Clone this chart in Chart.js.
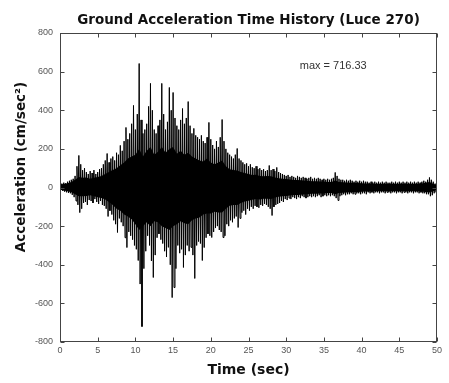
<!DOCTYPE html>
<html>
<head>
<meta charset="utf-8">
<script src="https://cdn.jsdelivr.net/npm/chart.js@4.4.1/dist/chart.umd.min.js"></script>
<style>
html,body{margin:0;padding:0;background:#fff;}
#wrap{width:449px;height:383px;}
</style>
</head>
<body>
<div id="wrap"><canvas id="c" width="449" height="383"></canvas></div>
<script>
// Sampling: one positive and one negative peak every 0.25 s
const sampleStep = 0.25;
// the dense (solid black) band of the record, every 0.5 s
const coreStep = 0.5;
const titleText = 'Ground Acceleration Time History (Luce 270)';
const xTitle = 'Time (sec)';
const yTitle = 'Acceleration (cm/sec\u00B2)';
const maxLabel = 'max = 716.33';
const xTicks = {min: 0, max: 50, step: 5};
const yTicks = {min: -800, max: 800, step: 200};

// positive peak (cm/sec^2) in each 0.25 s slot
const upperPeaks = [
 15,20,25,22,30,35,40,45,60,110,166,120,90,100,80,70,85,75,90,70,
 80,95,100,120,140,176,130,150,160,140,180,170,218,190,240,311,250,280,330,425,
 300,380,642,350,280,300,330,420,539,400,300,280,320,350,539,380,300,340,518,400,
 492,360,320,300,350,409,330,360,445,320,280,306,270,260,250,270,240,230,260,337,
 250,220,200,240,210,260,352,240,200,180,170,160,150,170,202,150,140,130,120,125,
 110,120,105,100,110,95,100,90,95,85,90,114,90,95,85,104,80,75,70,65,
 60,65,55,60,55,50,60,55,50,55,50,45,50,55,45,50,45,50,45,40,
 45,40,45,40,45,50,78,60,45,40,40,35,40,35,40,35,30,35,30,35,
 30,35,30,30,25,30,25,30,25,30,25,30,25,30,25,25,30,25,30,25,
 30,25,30,25,30,25,30,25,30,25,30,25,30,35,30,40,52,40,30,20,
 15
];
// negative peak magnitude (cm/sec^2) in each 0.25 s slot
const lowerPeaks = [
 12,18,22,25,28,30,38,50,70,90,130,110,80,75,90,65,70,80,60,75,
 85,70,90,95,110,150,120,140,170,190,233,160,180,200,260,311,230,250,270,300,
 320,378,500,720,420,330,250,300,380,466,350,260,240,270,290,330,360,310,400,570,
 518,420,300,340,320,414,350,300,330,310,350,471,300,280,290,378,311,260,240,250,
 259,230,210,200,220,230,259,250,190,200,170,180,160,150,207,160,130,120,140,110,
 120,100,110,95,100,105,90,95,85,90,100,110,145,100,90,85,80,70,75,60,
 65,55,60,50,55,60,50,55,45,50,55,50,45,50,45,50,45,40,50,45,
 40,45,40,45,40,45,55,67,45,40,35,40,35,35,30,35,35,30,30,35,
 30,30,35,25,30,25,30,25,25,30,25,25,30,25,25,30,25,25,30,25,
 25,30,25,25,30,25,25,30,25,25,30,25,30,30,35,35,45,40,30,25,
 15
];
// upper edge of the solid band (cm/sec^2), every 0.5 s
const coreUpper = [
 15,18,22,28,40,55,50,52,45,50,
 55,60,70,80,90,100,115,130,150,160,
 170,200,160,190,210,170,185,210,180,200,
 210,175,190,170,180,160,150,140,135,150,
 130,120,130,140,110,95,90,88,80,75,
 70,65,66,60,58,60,58,52,48,45,
 44,41,39,39,37,35,34,33,32,31,
 31,29,29,36,29,27,26,25,24,23,
 22,21,21,20,19,19,19,19,19,19,
 19,19,19,19,19,19,21,24,28,19,
 12
];
// lower edge magnitude of the solid band (cm/sec^2), every 0.5 s
const coreLower = [
 12,16,20,25,35,45,45,44,40,45,
 50,55,62,75,90,110,120,140,150,165,
 190,220,200,180,200,175,180,200,210,220,
 200,190,175,185,190,170,160,155,140,135,
 135,125,130,130,110,95,90,90,80,72,
 68,64,60,62,58,58,60,52,48,45,
 44,41,39,39,37,35,34,33,32,31,
 31,29,29,35,29,27,26,25,24,23,
 22,21,21,20,19,19,19,19,19,19,
 19,19,19,19,19,19,21,23,26,19,
 12
];

const points = [];
for (let i = 0; i < upperPeaks.length; i++) {
  const t = i * sampleStep;
  points.push({x: t, y: upperPeaks[i]});
  points.push({x: t + sampleStep / 2, y: -lowerPeaks[i]});
}
const bandTop = coreUpper.map((v, i) => ({x: i * coreStep, y: v}));
const bandBottom = coreLower.map((v, i) => ({x: i * coreStep, y: -v}));

const FONT = "'Liberation Sans', Arial, Helvetica, sans-serif";
const BOLD = "'DejaVu Sans', 'Liberation Sans', Arial, sans-serif";

const frame = {
  id: 'frame',
  afterDatasetsDraw(chart) {
    const {ctx, chartArea: a, scales: {x, y}} = chart;
    ctx.save();
    ctx.strokeStyle = '#444';
    ctx.lineWidth = 1;
    const L = Math.round(a.left) + 0.5, R = Math.round(a.right) - 0.5;
    const T = Math.round(a.top) + 0.5, B = Math.round(a.bottom) - 0.5;
    ctx.strokeRect(L, T, R - L, B - T);
    const tl = 4;
    ctx.beginPath();
    x.ticks.forEach(t => {
      const px = Math.round(x.getPixelForValue(t.value)) + 0.5;
      ctx.moveTo(px, B); ctx.lineTo(px, B - tl);
      ctx.moveTo(px, T); ctx.lineTo(px, T + tl);
    });
    y.ticks.forEach(t => {
      const py = Math.round(y.getPixelForValue(t.value)) + 0.5;
      ctx.moveTo(L, py); ctx.lineTo(L + tl, py);
      ctx.moveTo(R, py); ctx.lineTo(R - tl, py);
    });
    ctx.stroke();
    // annotation
    ctx.fillStyle = '#333';
    ctx.font = '11px ' + FONT;
    ctx.textBaseline = 'middle';
    ctx.textAlign = 'left';
    ctx.fillText(maxLabel, x.getPixelForValue(31.8), y.getPixelForValue(630));
    // y axis title
    ctx.save();
    ctx.translate(21, 167);
    ctx.rotate(-Math.PI / 2);
    ctx.fillStyle = '#111';
    ctx.font = 'bold 13.5px ' + BOLD;
    ctx.textAlign = 'center';
    ctx.fillText(yTitle, 0, 0);
    ctx.restore();
    ctx.restore();
  }
};

new Chart(document.getElementById('c'), {
  type: 'line',
  data: {
    datasets: [
      {data: bandTop, borderWidth: 0, borderColor: 'rgba(0,0,0,0)', backgroundColor: '#000', pointRadius: 0, fill: '+1', tension: 0},
      {data: bandBottom, borderWidth: 0, borderColor: 'rgba(0,0,0,0)', pointRadius: 0, fill: false, tension: 0},
      {data: points, borderColor: '#000', borderWidth: 1, pointRadius: 0, tension: 0, fill: false}
    ]
  },
  options: {
    responsive: false,
    animation: false,
    events: [],
    layout: {padding: {top: 0, right: 12, bottom: 0, left: 0}},
    plugins: {
      legend: {display: false},
      tooltip: {enabled: false},
      title: {
        display: true,
        text: titleText,
        fullSize: false,
        color: '#111',
        font: {family: BOLD, size: 13.5, weight: 'bold'},
        padding: {top: 12, bottom: 4.8}
      }
    },
    scales: {
      x: {
        type: 'linear',
        min: xTicks.min, max: xTicks.max,
        afterFit(s) { s.height = 41; },
        grid: {display: false, drawTicks: false},
        border: {display: false},
        ticks: {stepSize: xTicks.step, padding: 3, color: '#555', font: {family: FONT, size: 9}},
        title: {display: true, text: xTitle, color: '#111', font: {family: BOLD, size: 14, weight: 'bold'}, padding: {top: 0, bottom: 4.6}}
      },
      y: {
        min: yTicks.min, max: yTicks.max,
        afterFit(s) { s.width = 60; },
        grid: {display: false, drawTicks: false},
        border: {display: false},
        ticks: {stepSize: yTicks.step, padding: 7, color: '#555', font: {family: FONT, size: 9}},
        title: {display: false}
      }
    }
  },
  plugins: [frame]
});
</script>
</body>
</html>
